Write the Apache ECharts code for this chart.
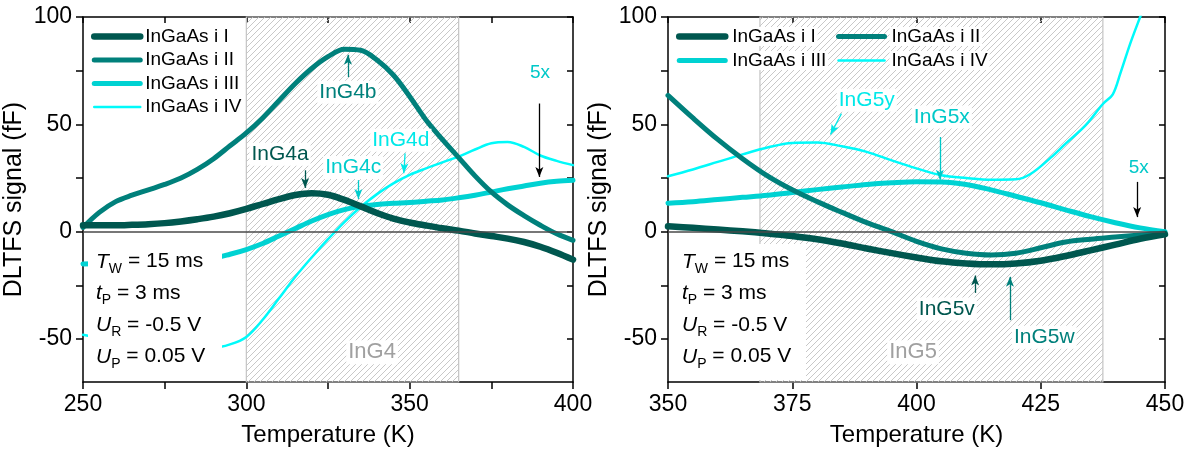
<!DOCTYPE html>
<html><head><meta charset="utf-8">
<script src="https://cdn.jsdelivr.net/npm/echarts@6/dist/echarts.min.js"></script>
<style>html,body{margin:0;padding:0;background:#fff}#c{width:1195px;height:454px}</style>
</head><body><div id="c"></div>
<script>
const FONT = '"Liberation Sans", Arial, sans-serif';
const seriesNames = ['InGaAs i I', 'InGaAs i II', 'InGaAs i III', 'InGaAs i IV'];
const seriesColors = ['#00574f', '#00807b', '#00d2d2', '#00fafa'];
const seriesWidths = [6.5, 5, 5, 2.5];

// Left panel (InG4)
const leftT   = [250,255,260,265,270,275,280,285,290,295,300,305,310,315,320,325,330,335,340,345,350,355,360,365,370,375,380,385,390,395,400];
const leftI   = [3,3,3,3.2,3.5,4,4.8,5.8,7,8.6,10.6,12.9,15.2,17.1,17.9,17.2,14.8,11.8,8.7,6.1,4.3,2.9,1.6,0.5,-0.8,-2,-3.2,-4.8,-7,-9.8,-13];
const leftII  = [2,9,14,17,19.5,22,25,29,34,40,46,53,61,69,76,81.5,85,84.5,80,73,63,52,43,34.5,26,18.5,12.5,7.5,3,-1,-4];
const leftIII = [-15,-14.8,-14.5,-14.3,-14,-13.6,-13.2,-12.8,-12.3,-10.5,-8.3,-5.5,-2,1.5,5,8,10.3,11.8,12.7,13.2,13.6,14.2,14.8,15.8,17,18.5,20,21.3,22.6,23.5,24];
const leftIV  = [-48,-49.5,-50.5,-51.5,-52.3,-53,-53.6,-54,-54,-52.5,-49,-41,-31,-21,-12,-3.5,4.5,11.5,17.5,22.5,26.5,29.5,32.3,35,38.3,41.2,41.8,39.5,35.5,33,31];

// Right panel (InG5)
const rightT   = [350,355,360,365,370,375,380,385,390,395,400,405,410,415,420,425,430,435,440,445,450];
const rightI   = [2.5,1.8,1,0.2,-0.8,-2,-3.5,-5.5,-7.8,-10,-12,-13.8,-14.8,-15.2,-14.8,-13.5,-11.3,-8.7,-6,-3.3,-1.2];
const rightII  = [63.5,53,43,34,26,19.5,14,9,4.2,0,-4.5,-8,-10,-10.8,-10,-7.5,-4.8,-3.5,-2.5,-1.5,-0.6];
const rightIII = [13.3,14,15,16,17,18.3,19.6,20.8,22,22.8,23.3,23.2,22,19.5,16.5,13.5,10.2,7,4.2,1.8,0];
const rightIVT = [350,355,360,365,370,375,380,385,390,395,400,405,410,415,420,423,427,430,434,437.5,439.5,441,443,445,447];
const rightIV  = [25.8,29,32.5,36,39.2,41.3,41.5,39.8,37.2,33.2,29.5,26.3,25,24.2,24.4,27,34.5,41,49.5,59.5,64,73.6,87.6,100,112];

// Axes / ticks
const leftXRange = [250, 400];
const rightXRange = [350, 450];
const leftXLabels = [250, 300, 350, 400];
const rightXLabels = [350, 375, 400, 425, 450];
const yRange = [-70, 100];
const yLabels = [-50, 0, 50, 100];
const yTicks = [-50, -25, 0, 25, 50, 75, 100];
const leftHatch = [300, 365];
const rightHatch = [368.5, 437.5];

// Annotations: [text, T, y, color, fontSize]
const leftLabels = [
  ['InG4a', 310.3, 36.1, '#00574f', 21],
  ['InG4b', 331.1, 64.9, '#00807b', 21],
  ['InG4c', 332.7, 29.9, '#00cccc', 21],
  ['InG4d', 347.3, 42.6, '#00e8e8', 21],
  ['5x', 389.9, 73.8, '#00c8c8', 19],
  ['InG4', 338.5, -56.1, '#a0a0a0', 22]
];
const leftArrows = [
  [318, 28.6, 318, 20.4, '#00574f'],
  [331.1, 72.0, 331.1, 82.4, '#00807b'],
  [334.3, 24.0, 334.3, 15.2, '#00cccc'],
  [348.6, 36.5, 348.2, 27.2, '#00e8e8'],
  [389.7, 59.7, 389.7, 25.5, '#000000']
];
const rightLabels = [
  ['InG5y', 390.0, 61.2, '#00e8e8', 21],
  ['InG5x', 405.1, 53.4, '#00c8c8', 21],
  ['InG5v', 406.1, -36.0, '#00574f', 21],
  ['InG5w', 425.7, -49.1, '#00807b', 21],
  ['5x', 444.7, 29.6, '#00c8c8', 19],
  ['InG5', 399.3, -56.1, '#a0a0a0', 22]
];
const rightArrows = [
  [384.9, 55.0, 382.7, 45.3, '#00e8e8'],
  [404.7, 44.1, 404.7, 24.2, '#00c8c8'],
  [411.8, -28.5, 411.8, -20.4, '#00574f'],
  [418.8, -41.2, 418.8, -21.0, '#00807b'],
  [444.4, 23.2, 444.4, 6.8, '#000000']
];
// Measurement parameters: [symbol, subscript, rest]
const paramLines = [['T', 'W', ' = 15 ms'], ['t', 'P', ' = 3 ms'], ['U', 'R', ' = -0.5 V'], ['U', 'P', ' = 0.05 V']];

function hatchPattern() {
  const c = document.createElement('canvas');
  c.width = 6; c.height = 6;
  const g = c.getContext('2d');
  g.strokeStyle = '#c2c2c2'; g.lineWidth = 0.9;
  g.beginPath();
  g.moveTo(0, 6); g.lineTo(6, 0);
  g.moveTo(-1, 1); g.lineTo(1, -1);
  g.moveTo(5, 7); g.lineTo(7, 5);
  g.stroke();
  return c;
}
const pattern = { image: hatchPattern(), repeat: 'repeat' };

const chart = echarts.init(document.getElementById('c'), null, { renderer: 'canvas' });

const axisLineStyle = { color: '#000', width: 1.5 };
function xAxes(grid, range, labels) {
  return [
    { gridIndex: grid, type: 'value', min: range[0], max: range[1], interval: 25, position: 'bottom',
      axisLine: { show: true, onZero: false, lineStyle: axisLineStyle },
      axisTick: { show: true, inside: false, length: 7, lineStyle: axisLineStyle },
      axisLabel: { customValues: labels, margin: 11, fontSize: 23, fontFamily: FONT, color: '#000' },
      splitLine: { show: false },
      name: 'Temperature (K)', nameLocation: 'middle', nameGap: 41,
      nameTextStyle: { fontSize: 24, fontFamily: FONT, color: '#000' } },
    { gridIndex: grid, type: 'value', min: range[0], max: range[1], interval: 25, position: 'top',
      axisLine: { show: true, onZero: false, lineStyle: axisLineStyle },
      axisTick: { show: true, inside: true, length: 6, lineStyle: axisLineStyle },
      axisLabel: { show: false }, splitLine: { show: false } }
  ];
}
function yAxes(grid) {
  return [
    { gridIndex: grid, type: 'value', min: yRange[0], max: yRange[1], position: 'left',
      axisLine: { show: true, onZero: false, lineStyle: axisLineStyle },
      axisTick: { show: true, inside: false, length: 7, customValues: yTicks, lineStyle: axisLineStyle },
      axisLabel: { customValues: yLabels, margin: 11, fontSize: 23, fontFamily: FONT, color: '#000' },
      splitLine: { show: false },
      name: 'DLTFS signal (fF)', nameLocation: 'middle', nameGap: 56, nameRotate: 90,
      nameTextStyle: { fontSize: 25, fontFamily: FONT, color: '#000' } },
    { gridIndex: grid, type: 'value', min: yRange[0], max: yRange[1], position: 'right',
      axisLine: { show: true, onZero: false, lineStyle: axisLineStyle },
      axisTick: { show: true, inside: true, length: 6, customValues: yTicks, lineStyle: axisLineStyle },
      axisLabel: { show: false }, splitLine: { show: false } }
  ];
}

function curve(name, idx, xs, ys, xi, yi) {
  return {
    name: name, type: 'line', xAxisIndex: xi, yAxisIndex: yi, z: 3 + (3 - idx) * 0.1,
    data: xs.map((t, i) => [t, ys[i]]), smooth: 0.35, symbol: 'none', showSymbol: false,
    lineStyle: { color: seriesColors[idx], width: seriesWidths[idx], cap: 'round', join: 'round' },
    itemStyle: { color: seriesColors[idx] }, silent: true, animation: false
  };
}
function background(xi, yi, hatch) {
  return {
    type: 'line', name: 'bg' + xi, xAxisIndex: xi, yAxisIndex: yi, data: [], z: 1, silent: true, animation: false,
    markArea: { silent: true, itemStyle: { color: pattern, borderColor: '#c4c4c4', borderWidth: 1.2 },
      data: [[{ xAxis: hatch[0] }, { xAxis: hatch[1] }]] },
    markLine: { silent: true, symbol: ['none', 'none'], animation: false, label: { show: false },
      lineStyle: { color: '#4a4a4a', width: 1.5, type: 'solid' }, data: [{ yAxis: 0 }] }
  };
}
function annotations(xi, yi, labels, arrows) {
  return {
    type: 'line', name: 'anno' + xi, xAxisIndex: xi, yAxisIndex: yi, data: [], z: 20, silent: true, animation: false,
    markPoint: { silent: true, animation: false, symbol: 'rect', symbolSize: 1, itemStyle: { color: 'rgba(0,0,0,0)' },
      data: labels.map(l => ({ coord: [l[1], l[2]],
        label: { show: true, position: 'inside', formatter: l[0], color: l[3], fontSize: l[4], fontFamily: FONT,
          backgroundColor: '#fff', padding: [1, 2] } })) },
    markLine: { silent: true, animation: false, symbol: ['none', 'arrow'], symbolSize: [6, 10], label: { show: false },
      lineStyle: { width: 1.3, type: 'solid' },
      data: arrows.map(a => [{ coord: [a[0], a[1]], lineStyle: { color: a[4] }, itemStyle: { color: a[4] } },
                             { coord: [a[2], a[3]] }]) }
  };
}

const legendBase = {
  orient: 'vertical', padding: 0, itemWidth: 46, itemHeight: 2, selectedMode: false,
  textStyle: { fontSize: 19, fontFamily: FONT, color: '#000', lineHeight: 19 },
  lineStyle: { width: 'inherit' },
  itemStyle: { color: 'rgba(0,0,0,0)', borderWidth: 0, opacity: 0 }
};

function paramTexts(x0) {
  const ys = [261.7, 293.3, 325.5, 356.7];
  return paramLines.map((p, i) => ({
    type: 'text', x: x0, y: ys[i], z: 60, silent: true,
    style: {
      text: '{i|' + p[0] + '}{s|' + p[1] + '}{n|' + p[2] + '}',
      verticalAlign: 'middle', align: 'left',
      rich: {
        i: { fontStyle: 'italic', fontSize: 21, fontFamily: FONT, fill: '#000', lineHeight: 22 },
        s: { fontSize: 14, fontFamily: FONT, fill: '#000', lineHeight: 28, verticalAlign: 'bottom' },
        n: { fontSize: 21, fontFamily: FONT, fill: '#000', lineHeight: 22 }
      }
    }
  }));
}

const option = {
  backgroundColor: '#fff',
  animation: false,
  grid: [
    { left: 83, right: 622, top: 17, bottom: 72, containLabel: false },
    { left: 668, right: 30, top: 17, bottom: 72, containLabel: false }
  ],
  xAxis: [...xAxes(0, leftXRange, leftXLabels), ...xAxes(1, rightXRange, rightXLabels)],
  yAxis: [...yAxes(0), ...yAxes(1)],
  legend: [
    Object.assign({}, legendBase, { data: seriesNames, left: 91, top: 27, itemGap: 4.5 }),
    Object.assign({}, legendBase, { data: ['InGaAs i I', 'InGaAs i III'], left: 676, top: 27, itemGap: 5,
      textStyle: Object.assign({}, legendBase.textStyle, { backgroundColor: '#fff', padding: [0, 2] }) }),
    Object.assign({}, legendBase, { data: ['InGaAs i II', 'InGaAs i IV'], left: 836, top: 27, itemGap: 5,
      textStyle: Object.assign({}, legendBase.textStyle, { backgroundColor: '#fff', padding: [0, 2] }) })
  ],
  series: [
    background(0, 0, leftHatch),
    curve(seriesNames[0], 0, leftT, leftI, 0, 0),
    curve(seriesNames[1], 1, leftT, leftII, 0, 0),
    curve(seriesNames[2], 2, leftT, leftIII, 0, 0),
    curve(seriesNames[3], 3, leftT, leftIV, 0, 0),
    annotations(0, 0, leftLabels, leftArrows),
    background(2, 2, rightHatch),
    curve(seriesNames[0], 0, rightT, rightI, 2, 2),
    curve(seriesNames[1], 1, rightT, rightII, 2, 2),
    curve(seriesNames[2], 2, rightT, rightIII, 2, 2),
    curve(seriesNames[3], 3, rightIVT, rightIV, 2, 2),
    annotations(2, 2, rightLabels, rightArrows)
  ],
  graphic: [
    { type: 'rect', z: 50, silent: true, shape: { x: 88, y: 244, width: 134, height: 135 }, style: { fill: '#fff' } },
    { type: 'rect', z: 50, silent: true, shape: { x: 673, y: 244, width: 133, height: 136 }, style: { fill: '#fff' } },
    ...paramTexts(96),
    ...paramTexts(682)
  ]
};
chart.setOption(option);
</script>
</body></html>
